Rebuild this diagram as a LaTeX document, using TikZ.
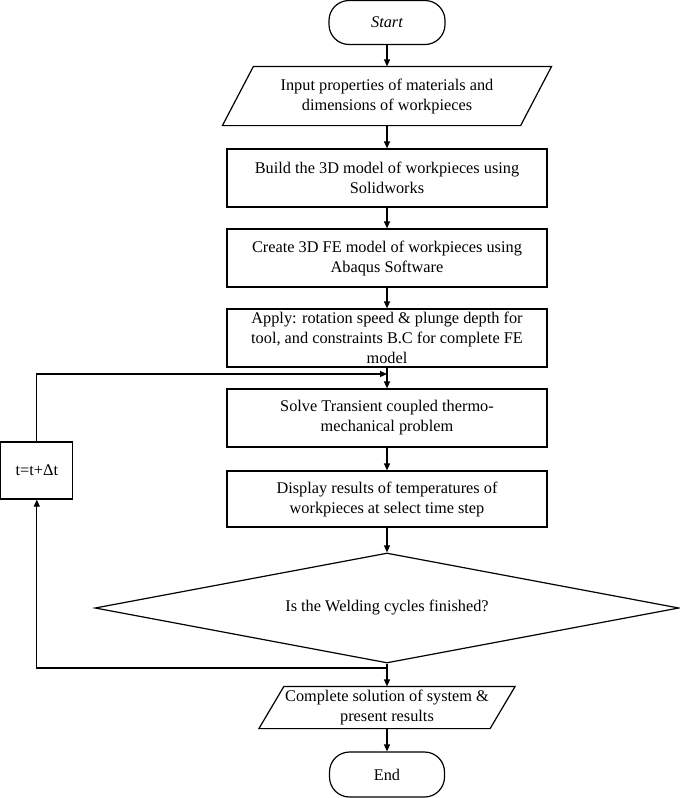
\documentclass[tikz,border=0pt]{standalone}
\usepackage{fontspec}
\setmainfont{Liberation Serif}
\usetikzlibrary{arrows.meta,shapes.geometric}
\begin{document}
\begin{tikzpicture}[x=1pt,y=-1pt,
  line width=1.2pt,
  font=\fontsize{16.3}{20}\selectfont,
  box/.style={draw,rectangle,align=center,inner sep=1pt,minimum width=320pt,minimum height=58pt},
  term/.style={draw,rectangle,rounded corners=20pt,align=center,minimum width=116pt,minimum height=44pt},
  para/.style={rectangle,align=center,inner sep=0pt},
  dec/.style={draw,diamond,aspect=5.3,inner sep=0pt,minimum width=584pt,minimum height=110pt,align=center},
  arr/.style={-{Triangle[length=7pt,width=6pt]}}]
\useasboundingbox (0,0) rectangle (680,798);
\node[term] (start) at (387,22.5) {\itshape Start};
\node[para,minimum width=297pt,minimum height=58pt] (in) at (387,96) {Input properties of materials and\\dimensions of workpieces};
\draw ([xshift=15.5pt]in.north west) -- ([xshift=15.5pt]in.north east) -- ([xshift=-15.5pt]in.south east) -- ([xshift=-15.5pt]in.south west) -- cycle;
\node[box] (build) at (387,178) {Build the 3D model of workpieces using\\Solidworks};
\node[box] (create) at (387,258) {Create 3D FE model of workpieces using\\Abaqus Software};
\node[box] (apply) at (387,338) {Apply: rotation speed \& plunge depth for\\tool, and constraints B.C for complete FE\\model};
\node[box] (solve) at (387,418) {Solve Transient coupled thermo-\\mechanical problem};
\node[box,minimum height=56pt] (disp) at (387,499) {Display results of temperatures of\\workpieces at select time step};
\node[dec] (dec) at (387,608) {Is the Welding cycles finished?};
\node[para,minimum width=230pt,minimum height=41pt] (out) at (387,707.5) {Complete solution of system \&\\present results};
\draw ([xshift=12.5pt]out.north west) -- ([xshift=12.5pt]out.north east) -- ([xshift=-12.5pt]out.south east) -- ([xshift=-12.5pt]out.south west) -- cycle;
\node[term,minimum width=115pt,minimum height=45pt] (end) at (387,774.5) {End};
\node[draw,rectangle,minimum width=72pt,minimum height=57pt,inner sep=1pt] (tbox) at (36.8,470.5) {t=t+Δt};
\coordinate (j1) at (387,668);
\coordinate (j2) at (387,374);
\draw[arr] (start) -- (in);
\draw[arr] (in) -- (build);
\draw[arr] (build) -- (create);
\draw[arr] (create) -- (apply);
\draw[arr] (apply) -- (solve);
\draw[arr] (solve) -- (disp);
\draw[arr] (disp) -- (dec);
\draw[arr] (dec.south) -- (out.north);
\draw[arr] (out) -- (end);
\draw[arr] (j1) -| (tbox.south);
\draw[arr] (tbox.north) |- (j2);
\end{tikzpicture}
\end{document}
